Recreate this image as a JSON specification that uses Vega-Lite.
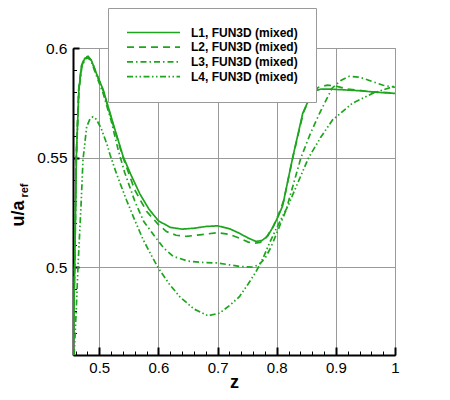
{
  "$schema": "https://vega.github.io/schema/vega-lite/v6.json",
  "autosize": "none",
  "width": 322,
  "height": 307,
  "padding": {"left": 73, "top": 48, "right": 55, "bottom": 45},
  "background": "white",
  "config": {
    "view": {"stroke": "#9a9a9a", "strokeWidth": 1},
    "font": "Liberation Sans",
    "axis": {"labelFont": "Liberation Sans", "titleFont": "Liberation Sans", "labelColor": "black", "titleColor": "black"}
  },
  "datasets": {
    "curves": [
      {"series": "L1, FUN3D (mixed)", "z": 0.4556, "u": 0.46},
      {"series": "L1, FUN3D (mixed)", "z": 0.4585, "u": 0.5},
      {"series": "L1, FUN3D (mixed)", "z": 0.4612, "u": 0.55},
      {"series": "L1, FUN3D (mixed)", "z": 0.4655, "u": 0.581},
      {"series": "L1, FUN3D (mixed)", "z": 0.47, "u": 0.5915},
      {"series": "L1, FUN3D (mixed)", "z": 0.4755, "u": 0.5953},
      {"series": "L1, FUN3D (mixed)", "z": 0.4814, "u": 0.596},
      {"series": "L1, FUN3D (mixed)", "z": 0.487, "u": 0.5942},
      {"series": "L1, FUN3D (mixed)", "z": 0.495, "u": 0.5885},
      {"series": "L1, FUN3D (mixed)", "z": 0.5067, "u": 0.5809},
      {"series": "L1, FUN3D (mixed)", "z": 0.5235, "u": 0.5655},
      {"series": "L1, FUN3D (mixed)", "z": 0.5404, "u": 0.5505},
      {"series": "L1, FUN3D (mixed)", "z": 0.553, "u": 0.5425},
      {"series": "L1, FUN3D (mixed)", "z": 0.5686, "u": 0.5335},
      {"series": "L1, FUN3D (mixed)", "z": 0.584, "u": 0.5265},
      {"series": "L1, FUN3D (mixed)", "z": 0.6, "u": 0.5212},
      {"series": "L1, FUN3D (mixed)", "z": 0.62, "u": 0.5182},
      {"series": "L1, FUN3D (mixed)", "z": 0.64, "u": 0.5174},
      {"series": "L1, FUN3D (mixed)", "z": 0.66, "u": 0.5178},
      {"series": "L1, FUN3D (mixed)", "z": 0.68, "u": 0.5186},
      {"series": "L1, FUN3D (mixed)", "z": 0.7, "u": 0.5189},
      {"series": "L1, FUN3D (mixed)", "z": 0.72, "u": 0.5176},
      {"series": "L1, FUN3D (mixed)", "z": 0.737, "u": 0.5155},
      {"series": "L1, FUN3D (mixed)", "z": 0.752, "u": 0.5133},
      {"series": "L1, FUN3D (mixed)", "z": 0.765, "u": 0.5118},
      {"series": "L1, FUN3D (mixed)", "z": 0.775, "u": 0.5122},
      {"series": "L1, FUN3D (mixed)", "z": 0.785, "u": 0.5143},
      {"series": "L1, FUN3D (mixed)", "z": 0.795, "u": 0.519},
      {"series": "L1, FUN3D (mixed)", "z": 0.803, "u": 0.5235},
      {"series": "L1, FUN3D (mixed)", "z": 0.81, "u": 0.528},
      {"series": "L1, FUN3D (mixed)", "z": 0.827, "u": 0.55},
      {"series": "L1, FUN3D (mixed)", "z": 0.844, "u": 0.5702},
      {"series": "L1, FUN3D (mixed)", "z": 0.856, "u": 0.5775},
      {"series": "L1, FUN3D (mixed)", "z": 0.866, "u": 0.5805},
      {"series": "L1, FUN3D (mixed)", "z": 0.875, "u": 0.5813},
      {"series": "L1, FUN3D (mixed)", "z": 0.895, "u": 0.5812},
      {"series": "L1, FUN3D (mixed)", "z": 0.94, "u": 0.5805},
      {"series": "L1, FUN3D (mixed)", "z": 0.97, "u": 0.5798},
      {"series": "L1, FUN3D (mixed)", "z": 1.0, "u": 0.5793},

      {"series": "L2, FUN3D (mixed)", "z": 0.4556, "u": 0.46},
      {"series": "L2, FUN3D (mixed)", "z": 0.4583, "u": 0.5},
      {"series": "L2, FUN3D (mixed)", "z": 0.461, "u": 0.55},
      {"series": "L2, FUN3D (mixed)", "z": 0.4652, "u": 0.5812},
      {"series": "L2, FUN3D (mixed)", "z": 0.47, "u": 0.592},
      {"series": "L2, FUN3D (mixed)", "z": 0.4755, "u": 0.5957},
      {"series": "L2, FUN3D (mixed)", "z": 0.481, "u": 0.5962},
      {"series": "L2, FUN3D (mixed)", "z": 0.487, "u": 0.5943},
      {"series": "L2, FUN3D (mixed)", "z": 0.495, "u": 0.5885},
      {"series": "L2, FUN3D (mixed)", "z": 0.5067, "u": 0.5805},
      {"series": "L2, FUN3D (mixed)", "z": 0.5235, "u": 0.565},
      {"series": "L2, FUN3D (mixed)", "z": 0.54, "u": 0.5502},
      {"series": "L2, FUN3D (mixed)", "z": 0.56, "u": 0.5353},
      {"series": "L2, FUN3D (mixed)", "z": 0.58, "u": 0.5255},
      {"series": "L2, FUN3D (mixed)", "z": 0.6, "u": 0.5195},
      {"series": "L2, FUN3D (mixed)", "z": 0.6135, "u": 0.5163},
      {"series": "L2, FUN3D (mixed)", "z": 0.63, "u": 0.5146},
      {"series": "L2, FUN3D (mixed)", "z": 0.647, "u": 0.5141},
      {"series": "L2, FUN3D (mixed)", "z": 0.67, "u": 0.5148},
      {"series": "L2, FUN3D (mixed)", "z": 0.7, "u": 0.5158},
      {"series": "L2, FUN3D (mixed)", "z": 0.72, "u": 0.515},
      {"series": "L2, FUN3D (mixed)", "z": 0.737, "u": 0.5133},
      {"series": "L2, FUN3D (mixed)", "z": 0.752, "u": 0.5115},
      {"series": "L2, FUN3D (mixed)", "z": 0.762, "u": 0.511},
      {"series": "L2, FUN3D (mixed)", "z": 0.772, "u": 0.5113},
      {"series": "L2, FUN3D (mixed)", "z": 0.782, "u": 0.5135},
      {"series": "L2, FUN3D (mixed)", "z": 0.793, "u": 0.518},
      {"series": "L2, FUN3D (mixed)", "z": 0.803, "u": 0.524},
      {"series": "L2, FUN3D (mixed)", "z": 0.812, "u": 0.5305},
      {"series": "L2, FUN3D (mixed)", "z": 0.828, "u": 0.551},
      {"series": "L2, FUN3D (mixed)", "z": 0.845, "u": 0.5705},
      {"series": "L2, FUN3D (mixed)", "z": 0.858, "u": 0.5785},
      {"series": "L2, FUN3D (mixed)", "z": 0.87, "u": 0.582},
      {"series": "L2, FUN3D (mixed)", "z": 0.886, "u": 0.5831},
      {"series": "L2, FUN3D (mixed)", "z": 0.9, "u": 0.5826},
      {"series": "L2, FUN3D (mixed)", "z": 0.92, "u": 0.5813},
      {"series": "L2, FUN3D (mixed)", "z": 0.96, "u": 0.58},
      {"series": "L2, FUN3D (mixed)", "z": 1.0, "u": 0.5795},

      {"series": "L3, FUN3D (mixed)", "z": 0.4556, "u": 0.46},
      {"series": "L3, FUN3D (mixed)", "z": 0.4585, "u": 0.5},
      {"series": "L3, FUN3D (mixed)", "z": 0.4613, "u": 0.55},
      {"series": "L3, FUN3D (mixed)", "z": 0.4657, "u": 0.5808},
      {"series": "L3, FUN3D (mixed)", "z": 0.4705, "u": 0.5912},
      {"series": "L3, FUN3D (mixed)", "z": 0.476, "u": 0.595},
      {"series": "L3, FUN3D (mixed)", "z": 0.4814, "u": 0.5955},
      {"series": "L3, FUN3D (mixed)", "z": 0.487, "u": 0.5935},
      {"series": "L3, FUN3D (mixed)", "z": 0.495, "u": 0.5875},
      {"series": "L3, FUN3D (mixed)", "z": 0.5067, "u": 0.5792},
      {"series": "L3, FUN3D (mixed)", "z": 0.52, "u": 0.567},
      {"series": "L3, FUN3D (mixed)", "z": 0.532, "u": 0.5535},
      {"series": "L3, FUN3D (mixed)", "z": 0.543, "u": 0.5432},
      {"series": "L3, FUN3D (mixed)", "z": 0.56, "u": 0.5302},
      {"series": "L3, FUN3D (mixed)", "z": 0.575, "u": 0.521},
      {"series": "L3, FUN3D (mixed)", "z": 0.594, "u": 0.514},
      {"series": "L3, FUN3D (mixed)", "z": 0.61, "u": 0.5085},
      {"series": "L3, FUN3D (mixed)", "z": 0.625, "u": 0.505},
      {"series": "L3, FUN3D (mixed)", "z": 0.65, "u": 0.5028},
      {"series": "L3, FUN3D (mixed)", "z": 0.68, "u": 0.5021},
      {"series": "L3, FUN3D (mixed)", "z": 0.7, "u": 0.502},
      {"series": "L3, FUN3D (mixed)", "z": 0.72, "u": 0.5011},
      {"series": "L3, FUN3D (mixed)", "z": 0.74, "u": 0.5003},
      {"series": "L3, FUN3D (mixed)", "z": 0.76, "u": 0.5001},
      {"series": "L3, FUN3D (mixed)", "z": 0.77, "u": 0.5012},
      {"series": "L3, FUN3D (mixed)", "z": 0.78, "u": 0.504},
      {"series": "L3, FUN3D (mixed)", "z": 0.79, "u": 0.509},
      {"series": "L3, FUN3D (mixed)", "z": 0.8, "u": 0.5155},
      {"series": "L3, FUN3D (mixed)", "z": 0.816, "u": 0.5262},
      {"series": "L3, FUN3D (mixed)", "z": 0.841, "u": 0.55},
      {"series": "L3, FUN3D (mixed)", "z": 0.857, "u": 0.561},
      {"series": "L3, FUN3D (mixed)", "z": 0.872, "u": 0.57},
      {"series": "L3, FUN3D (mixed)", "z": 0.885, "u": 0.577},
      {"series": "L3, FUN3D (mixed)", "z": 0.894, "u": 0.5818},
      {"series": "L3, FUN3D (mixed)", "z": 0.9085, "u": 0.5852},
      {"series": "L3, FUN3D (mixed)", "z": 0.9225, "u": 0.5871},
      {"series": "L3, FUN3D (mixed)", "z": 0.94, "u": 0.5867},
      {"series": "L3, FUN3D (mixed)", "z": 0.962, "u": 0.5847},
      {"series": "L3, FUN3D (mixed)", "z": 0.98, "u": 0.583},
      {"series": "L3, FUN3D (mixed)", "z": 1.0, "u": 0.5821},

      {"series": "L4, FUN3D (mixed)", "z": 0.4575, "u": 0.46},
      {"series": "L4, FUN3D (mixed)", "z": 0.461, "u": 0.48},
      {"series": "L4, FUN3D (mixed)", "z": 0.464, "u": 0.5},
      {"series": "L4, FUN3D (mixed)", "z": 0.4696, "u": 0.5307},
      {"series": "L4, FUN3D (mixed)", "z": 0.4725, "u": 0.549},
      {"series": "L4, FUN3D (mixed)", "z": 0.4787, "u": 0.5641},
      {"series": "L4, FUN3D (mixed)", "z": 0.4845, "u": 0.5678},
      {"series": "L4, FUN3D (mixed)", "z": 0.4895, "u": 0.5686},
      {"series": "L4, FUN3D (mixed)", "z": 0.495, "u": 0.5675},
      {"series": "L4, FUN3D (mixed)", "z": 0.503, "u": 0.5635},
      {"series": "L4, FUN3D (mixed)", "z": 0.5134, "u": 0.5558},
      {"series": "L4, FUN3D (mixed)", "z": 0.518, "u": 0.5515},
      {"series": "L4, FUN3D (mixed)", "z": 0.53, "u": 0.542},
      {"series": "L4, FUN3D (mixed)", "z": 0.546, "u": 0.5307},
      {"series": "L4, FUN3D (mixed)", "z": 0.56, "u": 0.5215},
      {"series": "L4, FUN3D (mixed)", "z": 0.574, "u": 0.5127},
      {"series": "L4, FUN3D (mixed)", "z": 0.588, "u": 0.5055},
      {"series": "L4, FUN3D (mixed)", "z": 0.6, "u": 0.4996},
      {"series": "L4, FUN3D (mixed)", "z": 0.618, "u": 0.4925},
      {"series": "L4, FUN3D (mixed)", "z": 0.636, "u": 0.4866},
      {"series": "L4, FUN3D (mixed)", "z": 0.66, "u": 0.481},
      {"series": "L4, FUN3D (mixed)", "z": 0.6837, "u": 0.4779},
      {"series": "L4, FUN3D (mixed)", "z": 0.7034, "u": 0.4791},
      {"series": "L4, FUN3D (mixed)", "z": 0.72, "u": 0.4825},
      {"series": "L4, FUN3D (mixed)", "z": 0.737, "u": 0.4866},
      {"series": "L4, FUN3D (mixed)", "z": 0.752, "u": 0.4925},
      {"series": "L4, FUN3D (mixed)", "z": 0.765, "u": 0.498},
      {"series": "L4, FUN3D (mixed)", "z": 0.777, "u": 0.5042},
      {"series": "L4, FUN3D (mixed)", "z": 0.7877, "u": 0.511},
      {"series": "L4, FUN3D (mixed)", "z": 0.8, "u": 0.518},
      {"series": "L4, FUN3D (mixed)", "z": 0.82, "u": 0.5285},
      {"series": "L4, FUN3D (mixed)", "z": 0.838, "u": 0.54},
      {"series": "L4, FUN3D (mixed)", "z": 0.854, "u": 0.55},
      {"series": "L4, FUN3D (mixed)", "z": 0.875, "u": 0.5595},
      {"series": "L4, FUN3D (mixed)", "z": 0.8944, "u": 0.5672},
      {"series": "L4, FUN3D (mixed)", "z": 0.928, "u": 0.5748},
      {"series": "L4, FUN3D (mixed)", "z": 0.962, "u": 0.5793},
      {"series": "L4, FUN3D (mixed)", "z": 1.0, "u": 0.5827}
    ]
  },
  "data": {"name": "curves"},
  "layer": [
    {
      "mark": {"type": "line", "color": "#1ea51e", "strokeWidth": 1.7, "clip": true},
      "encoding": {
        "x": {
          "field": "z", "type": "quantitative",
          "scale": {"domain": [0.4556, 1], "nice": false, "zero": false},
          "axis": {
            "values": [0.5, 0.6, 0.7, 0.8, 0.9, 1],
            "format": "~g",
            "grid": true, "gridColor": "#9a9a9a", "gridWidth": 1,
            "domainColor": "black", "domainWidth": 2,
            "tickColor": "black", "tickSize": -8, "tickWidth": 2,
            "labelFontSize": 15, "labelPadding": 13, "labelFlush": false,
            "title": "z", "titleFontSize": 18, "titleFontWeight": "bold",
            "titleBaseline": "alphabetic", "titleY": 32
          }
        },
        "y": {
          "field": "u", "type": "quantitative",
          "scale": {"domain": [0.46, 0.6], "nice": false, "zero": false},
          "axis": {
            "values": [0.5, 0.55, 0.6],
            "format": "~g",
            "grid": true, "gridColor": "#9a9a9a", "gridWidth": 1,
            "domainColor": "black", "domainWidth": 2,
            "tickColor": "black", "tickSize": -6, "tickWidth": 2,
            "labelFontSize": 15.5, "labelPadding": 12, "labelFlush": false,
            "title": "u/a", "titleFontSize": 18, "titleFontWeight": "bold",
            "titleAngle": -90, "titleAlign": "center", "titleBaseline": "alphabetic",
            "titleX": -50, "titleY": 165
          }
        },
        "strokeDash": {
          "field": "series", "type": "nominal",
          "scale": {"range": [[1, 0], [7, 5], [6, 3, 1.5, 3], [6, 2.5, 1.5, 2.5, 1.5, 2.5]]},
          "legend": {
            "orient": "none", "legendX": 35, "legendY": -40,
            "title": null,
            "symbolType": "stroke", "symbolSize": 2809,
            "symbolStrokeColor": "#1ea51e", "symbolStrokeWidth": 1.7,
            "clipHeight": 13, "rowPadding": 1.7,
            "labelFont": "Liberation Sans", "labelFontSize": 12, "labelFontWeight": "bold",
            "labelColor": "black", "labelOffset": 10,
            "fillColor": "white", "strokeColor": "#9a9a9a", "padding": 18
          }
        }
      }
    },
    {
      "mark": {"type": "point", "opacity": 0},
      "encoding": {
        "x": {
          "field": "z", "type": "quantitative",
          "scale": {"domain": [0.4556, 1], "nice": false, "zero": false},
          "axis": {
            "orient": "bottom",
            "values": [0.46, 0.48, 0.5, 0.52, 0.54, 0.56, 0.58, 0.6, 0.62, 0.64, 0.66, 0.68, 0.7, 0.72, 0.74, 0.76, 0.78, 0.8, 0.82, 0.84, 0.86, 0.88, 0.9, 0.92, 0.94, 0.96, 0.98, 1],
            "labels": false, "domain": false, "grid": false,
            "tickColor": "black", "tickSize": -4, "tickWidth": 1,
            "title": null
          }
        },
        "y": {
          "field": "u", "type": "quantitative",
          "scale": {"domain": [0.46, 0.6], "nice": false, "zero": false},
          "axis": {
            "orient": "left",
            "values": [0.47, 0.48, 0.49, 0.5, 0.51, 0.52, 0.53, 0.54, 0.55, 0.56, 0.57, 0.58, 0.59, 0.6],
            "labels": false, "domain": false, "grid": false,
            "tickColor": "black", "tickSize": -3.5, "tickWidth": 1,
            "title": "ref", "titleFont": "Liberation Sans", "titleFontSize": 11, "titleFontWeight": "bold",
            "titleAngle": -90, "titleAlign": "center", "titleBaseline": "alphabetic",
            "titleX": -45.5, "titleY": 142
          }
        }
      }
    }
  ],
  "resolve": {"scale": {"x": "independent", "y": "independent"}}
}
